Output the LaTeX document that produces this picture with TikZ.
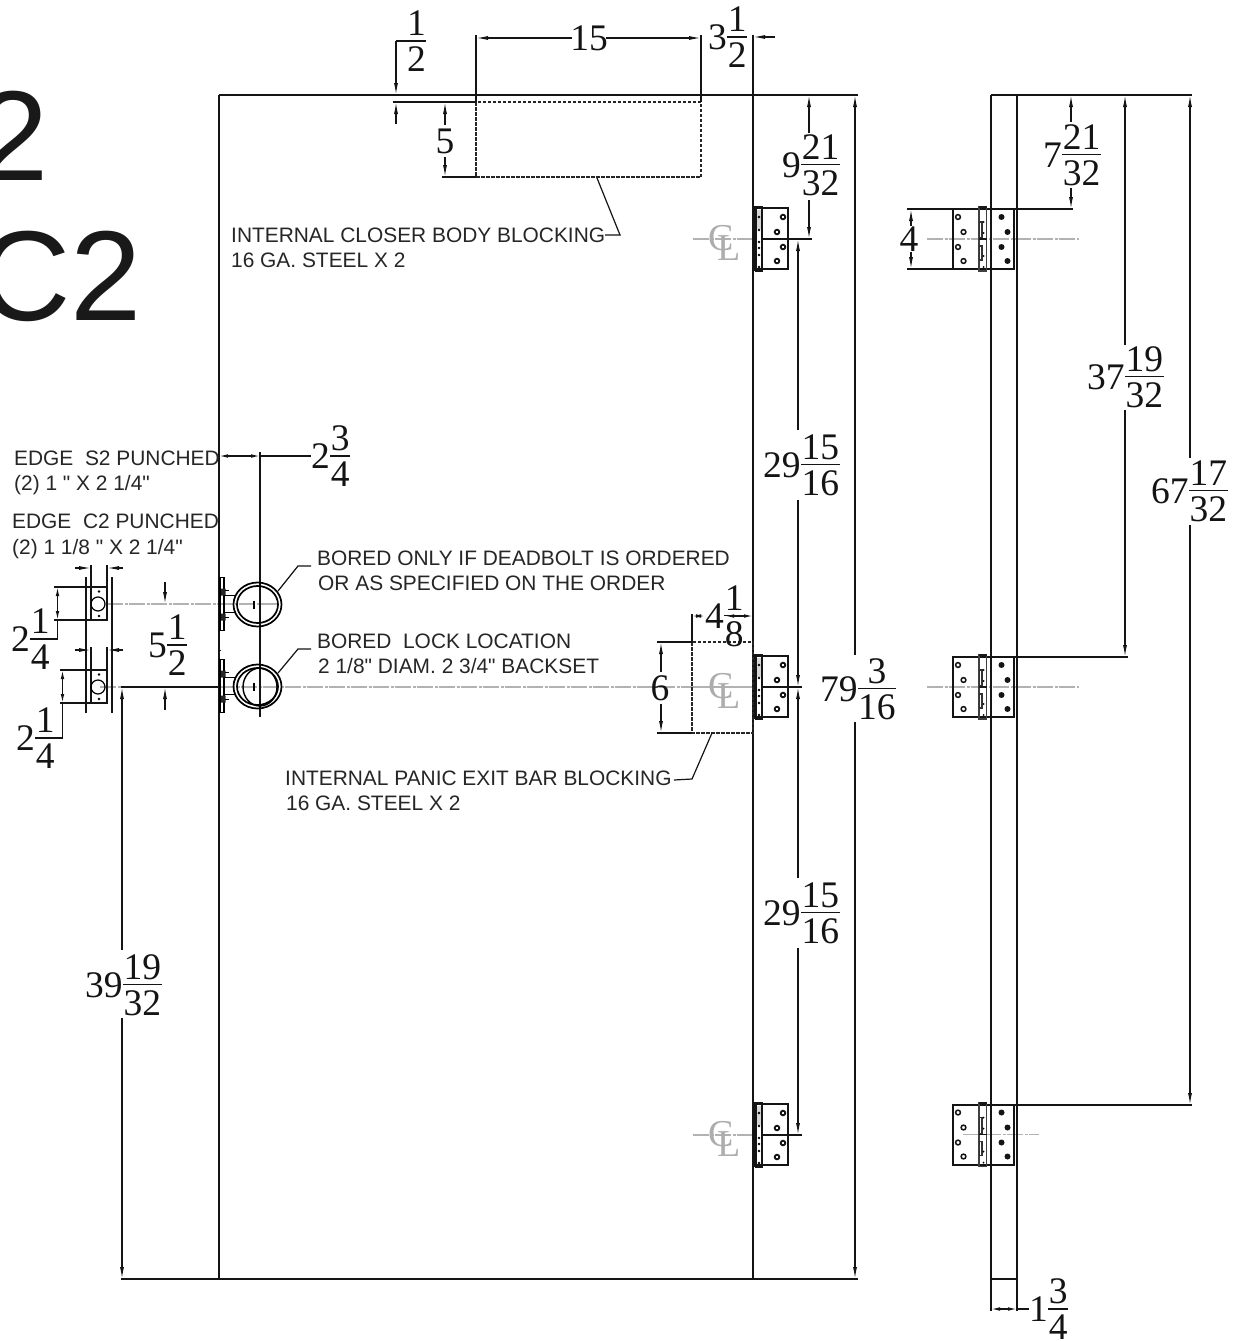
\documentclass[tikz,border=0pt]{standalone}
\usepackage{fontspec}
\setmainfont{Liberation Serif}
\newfontfamily\notefont{Liberation Sans}
\usetikzlibrary{arrows.meta}
\newcommand\frc[3]{\hbox{\raise18pt\hbox{#1}\kern0.5pt\vbox{\offinterlineskip\halign{\hfil##\hfil\cr\kern0.5pt\rule[-4.5pt]{0pt}{30.2pt}#2\kern0.5pt\cr\noalign{\hrule height 1.3pt}\rule{0pt}{30.2pt}#3\cr}}}}
\tikzset{
  x=1pt,y=-1pt,
  main/.style={line width=1.6pt,black!92},
  thin dim/.style={line width=1.2pt,black!92},
  dimarrow/.style={thin dim,-{Latex[length=12pt,width=4pt]}},
  dimboth/.style={thin dim,{Latex[length=9pt,width=3.6pt]}-{Latex[length=9pt,width=3.6pt]}},
  hidden/.style={line width=1.4pt,black!85,dash pattern=on 3.5pt off 1.5pt},
  center line/.style={line width=1.5pt,black!30,dash pattern=on 16pt off 1.5pt on 3pt off 1.5pt},
  num/.style={font=\fontsize{37.5}{38}\selectfont,inner sep=0pt,text=black!92},
  numw/.style={num,anchor=west},
  note/.style={font=\notefont\fontsize{20.9}{21}\selectfont,inner sep=0pt,anchor=base west,text=black!85},
  bigmark/.style={font=\notefont\fontsize{128}{128}\selectfont,inner sep=0pt,anchor=base east,text=black!90},
  clmark/.style={font=\fontsize{38}{38}\selectfont,inner sep=0pt,text=black!32},
  ringhole/.style={line width=1.5pt,draw=black!92,fill=white},
  solidhole/.style={fill=black!92},
  hingeside/.pic={
    \draw[line width=2pt,black!92] (0,-31) rectangle (35,30);
    \draw[line width=1.6pt,black!92] (3,-32) rectangle (9,32);
    \draw[line width=3.2pt,black!92] (1.5,-33) -- (1.5,32);
    \draw[line width=3.6pt,black!16] (6,-29) -- (6,-10);
    \foreach \yy in {-22,-9,3,9,16,28}{\fill[black] (6,\yy) circle (1.3pt);}
    \foreach \xx/\yy in {30/-22,24/-7,30/8,24/22}{\draw[ringhole,line width=1.8pt] (\xx,\yy) circle (2.3pt);}
  },
  hingefront/.pic={
    \draw[line width=2pt,black!92] (0,-30) rectangle (61,30);
    \draw[line width=1.5pt,black!75] (26.5,-32) rectangle (34,32);
    \draw[line width=2pt,black!90] (26.5,-32) -- (34,-32);
    \draw[line width=1.1pt,black!80] (27,-17) rectangle (29.5,-1) (27,7) rectangle (29.5,21);
    \draw[line width=1.4pt,black!90] (26.5,0) -- (34,0);
    \foreach \yy in {-17,-6,17,28}{\fill[black] (31,\yy) circle (1pt);}
    \foreach \xx/\yy in {5.5/-22,11/-7,5.5/8,11/22}{\draw[ringhole] (\xx,\yy) circle (2.4pt);}
    \foreach \xx/\yy in {49/-22,55/-7,49/8,55/22}{\fill[solidhole] (\xx,\yy) circle (3pt);}
  },
  lockset/.pic={
    \draw[line width=1.2pt] (220,-27) rectangle (224,26);
    \fill[black!85] (221,-16) rectangle (225.5,-9) (221,9) rectangle (225.5,16);
    \draw[line width=1.2pt] (224,-9) -- (236,-9) (224,8) -- (236,8) (225,-14) -- (229,-14) (225,13) -- (229,13);
    \draw[line width=1.7pt] (257.5,0) ellipse (24pt and 22pt);
    \draw[line width=1.7pt] (257.5,0) ellipse (20.5pt and 18.5pt);
    \draw[line width=1.1pt] (254,-4) -- (254,4);
  },
}
\begin{document}
\begin{tikzpicture}
\clip (0,0) rectangle (1238,1341);
\path[fill=white] (0,0) rectangle (1238,1341);

% large partly cropped marks
\node[bigmark] (markS) at (49,180) {2};
\node[bigmark] (markC) at (142,320) {C2};

% centre lines
\foreach \yy in {239,687,1135}{\draw[center line] (693,\yy) -- (753,\yy);}
\draw[center line] (107,604) -- (278,604);
\draw[center line] (100,687) -- (121,687);
\draw[center line] (219,687) -- (753,687);
\draw[center line] (927,239) -- (1079,239);
\draw[center line] (927,687) -- (1079,687);
\draw[center line] (963,1134.5) -- (1039,1134.5);

% door elevation
\draw[main] (219,95) -- (858,95);
\draw[main] (121,1279) -- (858,1279);
\draw[main] (219,95) -- (219,1279);
\draw[main] (753,35) -- (753,1279);
\draw[main] (121,687) -- (219,687);

% closer blocking
\draw[hidden] (476,102) rectangle (701,177);
\draw[main] (393,102) -- (476,102);
\draw[main] (442,177) -- (476,177);
\draw[main] (476,35) -- (476,102);
\draw[main] (701,35) -- (701,102);
\draw[dimarrow] (572,38) -- (476,38);
\draw[dimarrow] (606,38) -- (701,38);
\node[num] (d15) at (589,38) {15};
\draw[dimarrow] (775,37) -- (753,37);
\node[numw] (d312) at (708,37) {\frc{3}{1}{2}};
\draw[thin dim] (415,41) -- (396,41);
\draw[dimarrow] (396,41) -- (396,95);
\draw[dimarrow] (396,124) -- (396,102);
\node[numw] (d12) at (406,41) {\frc{}{1}{2}};
\draw[dimarrow] (445,125) -- (445,102);
\draw[dimarrow] (445,157) -- (445,177);
\node[num] (d5) at (445,141) {5};

% closer note
\draw[thin dim] (597,178) -- (620,235) -- (605,235);
\node[note] (n1) at (231,242) {INTERNAL CLOSER BODY BLOCKING};
\node[note] (n2) at (231,267) {16 GA. STEEL X 2};

% hinges, door elevation
\foreach \yy in {239,687,1135}{
  \pic at (753,\yy) {hingeside};
  \draw[main] (762,\yy) -- (802,\yy);
  \node[clmark] at (721,\yy-1) {C};
  \node[clmark] at (729,\yy+9) {L};
}
\draw[main] (762,239) -- (812,239);

% height dims, door elevation
\draw[dimarrow] (809,133) -- (809,95);
\draw[dimarrow] (809,200) -- (809,239);
\node[numw] (d9) at (782,165) {\frc{9}{21}{32}};
\draw[dimarrow] (798,430) -- (798,239);
\draw[dimarrow] (798,500) -- (798,687);
\node[numw] (d29a) at (763,465) {\frc{29}{15}{16}};
\draw[dimarrow] (798,878) -- (798,687);
\draw[dimarrow] (798,948) -- (798,1135);
\node[numw] (d29b) at (763,913) {\frc{29}{15}{16}};
\draw[dimarrow] (855,655) -- (855,95);
\draw[dimarrow] (855,722) -- (855,1279);
\node[numw] (d79) at (820,689) {\frc{79}{3}{16}};

% panic blocking
\draw[hidden] (692,642) rectangle (753,733);
\draw[main] (657,642) -- (692,642);
\draw[main] (657,733) -- (692,733);
\draw[thin dim] (692,614) -- (692,642);
\draw[dimarrow] (661,672) -- (661,642);
\draw[dimarrow] (661,704) -- (661,733);
\node[num] (d6) at (660,688) {6};
\draw[dimboth] (692,616) -- (705,616);
\draw[dimboth] (725,616) -- (753,616);
\node[numw] (d418) at (705,616) {\frc{4}{1}{8}};
\draw[thin dim] (712,733) -- (692,779) -- (674,780);
\node[note] (n3) at (285,785) {INTERNAL PANIC EXIT BAR BLOCKING};
\node[note] (n4) at (286,810) {16 GA. STEEL X 2};

% lock sets
\draw[main] (260,452) -- (260,717);
\pic at (0,604.5) {lockset};
\pic at (0,686.5) {lockset};
\draw[line width=1.4pt] (260,687) ellipse (17pt and 19pt);
\draw[thin dim] (220,650) -- (220,651);
\draw[dimboth] (219,456) -- (260,456);
\draw[thin dim] (260,456) -- (311,456);
\node[numw] (d234) at (311,456) {\frc{2}{3}{4}};
\draw[thin dim] (278,591) -- (298,566) -- (311,566);
\draw[thin dim] (278,673) -- (298,649) -- (311,649);
\node[note] (n5) at (317,565) {BORED ONLY IF DEADBOLT IS ORDERED};
\node[note] (n6) at (318,590) {OR AS SPECIFIED ON THE ORDER};
\node[note] (n7) at (317,648) {BORED\ \ LOCK LOCATION};
\node[note] (n8) at (318,673) {2 1/8" DIAM. 2 3/4" BACKSET};
\node[note] (n9) at (14,465) {EDGE\ \ S2 PUNCHED};
\node[note] (n10) at (14,490) {(2) 1 " X 2 1/4"};
\node[note] (n11) at (12,528) {EDGE\ \ C2 PUNCHED};
\node[note] (n12) at (12,554) {(2) 1 1/8 " X 2 1/4"};

% edge prep detail
\draw[main] (91,587) rectangle (107,620);
\draw[main] (91,670) rectangle (107,703);
\draw[line width=1.2pt] (98,604) circle (7pt) (98,687) circle (7pt);
\foreach \yy in {591.5,616,674.5,699}{\fill[black] (99,\yy) circle (1.4pt);}
\draw[thin dim] (86,577) -- (86,713);
\draw[thin dim] (112,577) -- (112,713);
\draw[thin dim] (91,565) -- (91,587);
\draw[thin dim] (107,565) -- (107,587);
\draw[thin dim] (91,647) -- (91,670);
\draw[thin dim] (107,647) -- (107,670);
\draw[dimarrow] (75,568) -- (91,568);
\draw[dimarrow] (123,568) -- (107,568);
\draw[dimarrow] (75,650) -- (91,650);
\draw[dimarrow] (123,650) -- (107,650);
\draw[main] (54,587) -- (91,587);
\draw[main] (54,620) -- (91,620);
\draw[main] (60,670) -- (91,670);
\draw[main] (60,703) -- (91,703);
\draw[dimboth] (57.5,587) -- (57.5,620);
\draw[dimboth] (62.5,670) -- (62.5,703);
\draw[thin dim] (57.5,620) -- (57.5,639) -- (40,639);
\draw[thin dim] (62.5,703) -- (62.5,738) -- (45,738);
\node[numw] (d214a) at (11,639) {\frc{2}{1}{4}};
\node[numw] (d214b) at (16,738) {\frc{2}{1}{4}};
\draw[dimarrow] (165,582) -- (165,604);
\draw[dimarrow] (165,710) -- (165,687);
\node[numw] (d512) at (148,645) {\frc{5}{1}{2}};
\draw[dimarrow] (122,950) -- (122,687);
\draw[dimarrow] (122,1018) -- (122,1279);
\node[numw] (d39) at (85,985) {\frc{39}{19}{32}};

% edge view
\draw[main] (991,95) -- (1192,95);
\draw[main] (991,95) -- (991,1311);
\draw[main] (1017,95) -- (1017,1311);
\draw[main] (991,1279) -- (1017,1279);
\pic at (952.5,239) {hingefront};
\pic at (952.5,687) {hingefront};
\pic at (952.5,1134.5) {hingefront};
\draw[main] (907,209) -- (952,209);
\draw[main] (907,269) -- (952,269);
\draw[main] (1013,209) -- (1073,209);
\draw[main] (1013,657) -- (1128,657);
\draw[main] (1013,1105) -- (1192,1105);
\draw[dimarrow] (911,226) -- (911,209);
\draw[dimarrow] (911,252) -- (911,269);
\node[num] (d4) at (909,239) {4};
\draw[dimarrow] (1071,122) -- (1071,95);
\draw[dimarrow] (1071,188) -- (1071,209);
\node[numw] (d7) at (1043,155) {\frc{7}{21}{32}};
\draw[dimarrow] (1125,345) -- (1125,95);
\draw[dimarrow] (1125,410) -- (1125,657);
\node[numw] (d37) at (1087,377) {\frc{37}{19}{32}};
\draw[dimarrow] (1190,458) -- (1190,95);
\draw[dimarrow] (1190,525) -- (1190,1105);
\node[numw] (d67) at (1151,491) {\frc{67}{17}{32}};
\draw[dimboth] (991,1309) -- (1017,1309);
\draw[thin dim] (1017,1309) -- (1029,1309);
\node[numw] (d134) at (1029,1309) {\frc{1}{3}{4}};
\end{tikzpicture}
\end{document}
